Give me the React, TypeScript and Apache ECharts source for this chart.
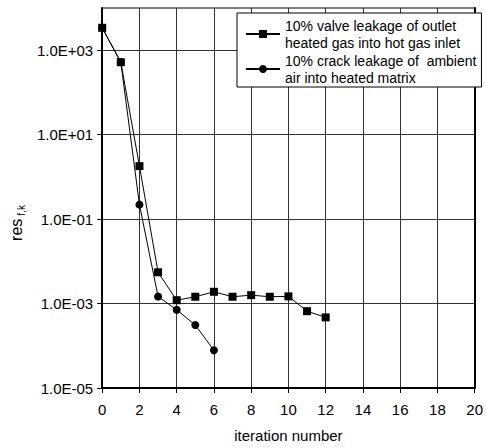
import React, { useEffect, useRef } from "react";
import * as echarts from "echarts";

const iterations = [0, 1, 2, 3, 4, 5, 6, 7, 8, 9, 10, 11, 12];
const valveLeakage = [3400, 520, 1.8, 0.0055, 0.0012, 0.00145, 0.0019, 0.00145, 0.00158, 0.00145, 0.00148, 0.00066, 0.00047];
const crackIterations = [0, 1, 2, 3, 4, 5, 6];
const crackLeakage = [3400, 520, 0.22, 0.00147, 0.00071, 0.00031, 0.000078];
const yTickValues = [1e-5, 1e-3, 1e-1, 1e1, 1e3];
const seriesNames = [
  "10% valve leakage of outlet\nheated gas into hot gas inlet",
  "10% crack leakage of  ambient\nair into heated matrix",
];

const FONT = "Liberation Sans, Arial, sans-serif";

function fmtExp(v: number): string {
  const e = Math.round(Math.log10(v));
  const sign = e < 0 ? "-" : "+";
  const a = Math.abs(e);
  return "1.0E" + sign + (a < 10 ? "0" + a : String(a));
}

export default function App() {
  const ref = useRef<HTMLDivElement>(null);
  useEffect(() => {
    if (!ref.current) return;
    const chart = echarts.init(ref.current, null, { renderer: "svg" });
    chart.setOption({
      animation: false,
      backgroundColor: "#fff",
      textStyle: { fontFamily: FONT, color: "#000" },
      grid: {
        left: 93,
        right: 9,
        top: 8,
        bottom: 53,
        show: true,
        borderColor: "#000",
        borderWidth: 1,
        backgroundColor: "transparent",
      },
      legend: {
        orient: "vertical",
        left: 237,
        top: 13,
        backgroundColor: "#fff",
        borderColor: "#000",
        borderWidth: 1,
        borderRadius: 0,
        padding: [-4.5, 5, -7.5, 8],
        itemWidth: 34,
        itemHeight: 10,
        itemGap: -16,
        textStyle: {
          fontFamily: FONT,
          fontSize: 14,
          color: "#000",
          lineHeight: 17,
          padding: [17, 0, 0, 0],
        },
        data: seriesNames,
      },
      xAxis: {
        type: "value",
        min: 0,
        max: 20,
        interval: 2,
        name: "iteration number",
        nameLocation: "middle",
        nameGap: 40,
        nameTextStyle: { fontFamily: FONT, fontSize: 15, color: "#000" },
        axisLine: { show: true, onZero: false, lineStyle: { color: "#000", width: 2 } },
        axisTick: { show: true, length: 5, lineStyle: { color: "#000" } },
        axisLabel: { fontFamily: FONT, fontSize: 15, color: "#000", margin: 14 },
        splitLine: { show: true, lineStyle: { color: "#333", width: 1 } },
      },
      yAxis: [
        {
          type: "log",
          logBase: 10,
          min: 1e-5,
          max: 1e4,
          name: "{a|res}{b|f,k}",
          nameLocation: "middle",
          nameRotate: 90,
          nameGap: 72,
          nameTextStyle: {
            fontFamily: FONT,
            color: "#000",
            padding: [0, 50, 0, 0],
            rich: {
              a: { fontFamily: FONT, fontSize: 16, color: "#000" },
              b: { fontFamily: FONT, fontSize: 10, color: "#000", verticalAlign: "bottom", padding: [0, 0, -2, 3] },
            },
          },
          axisLine: { show: true, onZero: false, lineStyle: { color: "#000", width: 2 } },
          axisTick: { show: true, length: 5, customValues: yTickValues, lineStyle: { color: "#000" } },
          axisLabel: {
            customValues: yTickValues,
            fontFamily: FONT,
            fontSize: 15,
            color: "#000",
            margin: 9,
            formatter: (v: number) => fmtExp(v),
          },
          splitLine: { show: true, lineStyle: { color: "#333", width: 1 } },
          minorTick: { show: false },
          minorSplitLine: { show: false },
        },
        {
          type: "log",
          logBase: 10,
          min: 1e-5,
          max: 1e4,
          position: "right",
          axisLine: { show: true, onZero: false, lineStyle: { color: "#000", width: 2 } },
          axisTick: { show: false },
          axisLabel: { show: false },
          splitLine: { show: false },
        },
      ],
      series: [
        {
          name: seriesNames[0],
          type: "line",
          data: iterations.map((x, i) => [x, valveLeakage[i]]),
          symbol: "rect",
          symbolSize: 8,
          z: 3,
          lineStyle: { color: "#000", width: 1 },
          itemStyle: { color: "#000" },
          emphasis: { disabled: true },
        },
        {
          name: seriesNames[1],
          type: "line",
          data: crackIterations.map((x, i) => [x, crackLeakage[i]]),
          symbol: "circle",
          symbolSize: 8,
          z: 2,
          lineStyle: { color: "#000", width: 1 },
          itemStyle: { color: "#000" },
          emphasis: { disabled: true },
        },
      ],
    });
    return () => chart.dispose();
  }, []);
  return <div ref={ref} style={{ position: "absolute", left: 0, top: 0, width: 486, height: 448 }} />;
}
